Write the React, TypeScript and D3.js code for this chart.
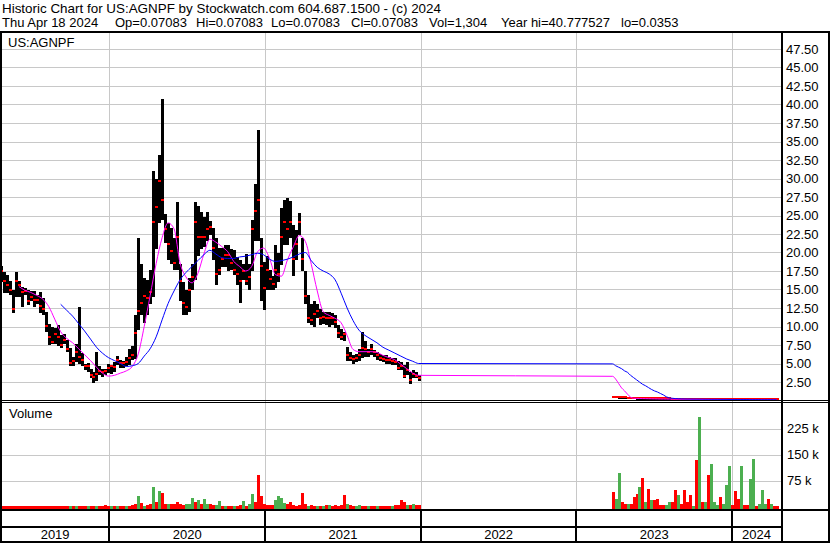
import React from "react";
import * as d3 from "d3";

// ---------- data ----------
const title = "Historic Chart for US:AGNPF by Stockwatch.com 604.687.1500 - (c) 2024";
const quoteParts = [
  "Thu Apr 18 2024",
  "Op=0.07083",
  "Hi=0.07083",
  "Lo=0.07083",
  "Cl=0.07083",
  "Vol=1,304",
  "Year hi=40.777527",
  "lo=0.0353",
];
const symbol = "US:AGNPF";

// weekly bars, segment A: weeks starting 2019-04-22
const startA = new Date(2019, 3, 22);
const hiA = [18.2,17.4,17.0,16.2,15.0,17.3,16.2,15.3,15.2,15.0,
 14.8,14.8,14.3,14.6,13.8,12.0,10.4,10.0,9.8,10.2,
 8.8,9.0,8.2,7.1,5.9,7.7,12.6,6.4,5.0,5.1,
 4.3,3.9,6.6,4.6,4.3,4.3,5.0,4.8,5.2,6.0,
 5.5,5.3,5.9,7.0,7.3,11.5,21.9,18.5,16.5,16.3,
 17.7,31.0,30.0,33.2,40.78,25.2,24.0,23.3,21.9,26.8,
 18.5,16.0,15.0,16.5,18.5,26.8,26.3,25.5,24.8,25.5,
 24.3,23.3,21.9,20.6,20.6,21.0,21.0,20.5,20.3,19.4,
 19.0,18.5,19.8,18.5,24.4,29.2,36.6,21.9,18.7,19.5,
 17.7,16.8,21.0,19.9,26.0,27.1,27.4,26.9,23.7,23.0,
 25.3,22.0,17.5,14.3,13.0,13.4,13.0,12.4,12.0,12.0,
 12.0,11.8,11.6,10.2,9.7,9.3,7.2,6.6,6.1,6.3,
 7.0,9.3,8.0,7.0,7.7,6.8,6.6,6.3,6.1,6.1,
 5.9,5.7,5.7,5.4,5.2,4.8,5.2,3.9,4.1,3.9,
 3.4];
const loA = [16.0,14.5,14.5,14.2,11.8,14.0,14.0,12.7,14.2,12.9,
 13.4,12.7,13.0,11.8,11.6,9.3,7.5,7.6,7.6,7.3,
 7.1,7.6,6.6,4.6,4.6,5.2,5.0,4.6,4.1,3.9,
 3.0,2.4,2.6,3.5,3.2,3.5,3.7,3.6,3.9,4.8,
 4.4,4.4,4.6,4.8,5.5,5.6,9.5,11.5,10.5,11.5,
 13.1,14.0,20.5,24.0,24.4,21.3,19.0,18.5,17.7,17.7,
 13.5,11.5,11.5,12.0,15.0,16.3,19.5,20.5,20.8,21.5,
 22.3,19.0,15.6,17.0,18.0,18.0,17.5,17.7,17.0,15.6,
 13.2,16.3,15.6,15.0,17.5,21.5,21.5,13.5,12.2,15.0,
 15.0,15.0,15.2,16.0,18.3,21.0,21.0,22.0,16.8,19.0,
 22.4,17.5,13.0,10.5,10.2,10.0,11.1,10.2,10.4,10.2,
 10.0,10.2,9.8,8.4,8.2,8.1,5.4,5.3,5.0,5.2,
 5.4,5.8,5.9,5.9,6.1,5.9,5.5,5.3,5.2,5.0,
 5.0,4.8,4.8,4.1,4.1,3.0,3.4,2.2,3.0,3.0,
 2.7];
const clA = [17.4,16.0,15.5,14.8,12.2,16.0,15.5,14.5,14.7,13.3,
 13.8,13.4,13.5,12.6,12.2,10.0,8.5,7.8,8.8,8.4,
 7.3,8.0,6.8,5.0,5.2,6.4,5.8,5.3,4.5,4.5,
 3.3,3.0,3.5,3.9,3.7,3.8,4.2,4.5,4.4,5.4,
 5.0,4.9,5.1,5.6,6.0,9.0,12.0,13.0,14.0,13.7,
 14.5,24.0,26.0,29.5,27.0,23.0,21.0,20.0,18.5,22.0,
 16.0,13.0,12.5,14.8,16.5,24.0,22.0,22.0,22.0,23.0,
 23.3,20.5,17.0,17.5,19.0,19.5,19.5,18.5,17.5,17.0,
 16.0,17.3,16.0,16.5,23.0,25.5,27.0,18.0,15.0,17.5,
 16.3,15.6,17.5,17.0,22.0,24.0,23.0,24.0,19.0,21.0,
 24.0,19.0,14.0,11.0,10.8,11.5,12.0,11.0,11.2,11.0,
 11.0,11.0,10.5,9.0,8.5,8.8,6.0,5.6,5.5,5.6,
 6.0,7.0,6.8,6.4,6.8,6.4,6.0,5.6,5.5,5.4,
 5.3,5.2,5.1,4.3,4.5,3.2,4.0,2.7,3.4,3.2,
 2.9];
// volume in thousands of shares
const volAk = [1,1,2,1,1,1,2,1,1,1,
 1,2,1,1,1,1,2,1,1,1,
 1,1,1,1.5,1,1.5,1,1,1,2,
 1,1,1.5,1,1,4,1,1,1,1,
 1,1,1,1,3.8,8.6,29.7,10.5,1,3.8,
 8.6,55.7,13.4,44,38.4,8.6,6.6,6.6,8.6,12.4,
 8.6,3.8,8.6,6.6,25,13.4,20,8.6,21,8.6,
 8.6,3.8,5.7,16.2,1,1,1,1,1,1,
 3.8,16.2,1,8.6,35.5,12.4,90,30.7,8.6,3.8,
 3.8,3.8,18.2,29.7,25,10.5,8.6,13.4,3.8,1,
 3.8,39.3,8.6,1,3.8,1,1,1,1,3.8,
 3.8,1,3.8,1,3.8,32.6,8.6,3.8,1,1,
 3.8,0.5,0.5,0.5,0.5,0.5,0.5,0.5,0.5,1,
 1,1,3.8,3.8,18.2,13.4,3.8,3.8,8.6,3.8,
 3.8];
// 1 = up (green volume), 0 = down (red volume)
const upA = [0,0,0,0,0,0,0,0,0,0,
 0,0,0,0,0,0,0,0,0,0,
 0,0,0,1,0,1,0,0,0,1,
 0,0,1,0,0,0,0,1,0,1,
 0,0,1,0,0,0,1,0,1,0,
 0,1,0,1,0,0,1,0,0,0,
 0,0,1,1,1,0,1,0,1,1,
 0,0,1,1,0,1,0,0,1,0,
 0,1,0,1,1,0,0,0,0,0,
 0,0,1,1,1,1,0,0,0,0,
 0,0,0,1,0,0,1,0,1,0,
 1,0,0,0,0,0,1,0,0,1,
 1,0,0,1,0,0,1,0,0,0,
 0,1,0,0,0,0,1,0,1,0,
 0];

// weekly bars, segment B: weeks starting 2023-03-27
const startB = new Date(2023, 2, 27);
const hiB = [0.45,0.42,0.40,0.38,0.36,0.33,0.30,0.28,0.27,0.25,
 0.24,0.23,0.22,0.21,0.21,0.20,0.19,0.19,0.18,0.17,
 0.17,0.16,0.16,0.15,0.15,0.14,0.14,0.14,0.15,0.16,
 0.13,0.13,0.14,0.15,0.12,0.12,0.12,0.11,0.12,0.13,
 0.10,0.11,0.10,0.12,0.09,0.09,0.10,0.11,0.09,0.08,
 0.09,0.08,0.08,0.08,0.075,0.07083];
const loB = [0.30,0.28,0.27,0.25,0.24,0.22,0.20,0.19,0.18,0.17,
 0.16,0.15,0.15,0.14,0.14,0.13,0.13,0.12,0.12,0.11,
 0.11,0.10,0.10,0.10,0.09,0.09,0.09,0.09,0.09,0.10,
 0.09,0.08,0.08,0.09,0.08,0.08,0.07,0.07,0.07,0.08,
 0.0353,0.06,0.06,0.07,0.06,0.06,0.06,0.07,0.06,0.06,
 0.06,0.06,0.06,0.06,0.065,0.07083];
const clB = [0.36,0.33,0.32,0.30,0.28,0.26,0.24,0.22,0.21,0.20,
 0.19,0.18,0.18,0.17,0.17,0.16,0.15,0.15,0.14,0.14,
 0.13,0.13,0.12,0.12,0.11,0.11,0.11,0.11,0.12,0.13,
 0.11,0.10,0.11,0.12,0.10,0.10,0.09,0.09,0.09,0.10,
 0.06,0.08,0.08,0.09,0.07,0.07,0.08,0.09,0.07,0.07,
 0.07,0.07,0.07,0.07,0.07,0.07083];
const volBk = [42,23,97,13,8.6,6,6,27.7,37.5,56.5,
 82,13,51.6,18,18,23,3.8,3.8,3.8,13,
 13,47,32.6,8.6,47,13,32.6,1,134,258,
 13,13,90,124,13,3.8,27.7,8.6,61,116,
 3.8,45,23,116,3.8,3.8,78.5,137,1,8.6,
 49,8.6,23,8.6,1,1.304];
const upB = [0,1,1,0,0,1,0,0,0,1,
 0,1,0,1,0,0,0,0,1,1,
 0,0,1,0,0,0,0,1,0,1,
 0,1,0,1,1,1,0,1,1,1,
 0,0,0,1,0,0,1,1,0,1,
 1,1,0,1,0,0];

// moving averages
// fast (magenta): segment A weeks 6,8,...,140
const maFastA = [15.4,14.9,14.6,14.2,13.7,12.7,11.0,9.3,8.4,7.8,
 7.0,6.2,5.4,4.5,3.7,3.3,3.4,3.7,4.0,4.6,
 6.3,10.0,14.2,18.5,22.0,24.0,23.2,18.6,16.7,15.9,
 17.2,19.8,21.8,21.4,20.8,20.1,18.8,18.1,17.5,18.1,
 20.1,20.6,19.2,17.0,16.8,19.0,20.8,22.3,21.5,18.4,
 14.8,12.0,11.5,11.1,10.5,8.8,6.9,6.6,6.6,6.6,
 6.5,6.1,5.8,5.5,4.9,4.3,3.7,3.4];
// slow (blue): segment A weeks 20,22,...,140
const maSlowA = [13.0,12.2,11.4,10.4,9.4,8.3,7.2,6.4,5.8,5.4,
 5.0,4.6,4.7,5.0,6.0,7.0,8.6,10.9,13.1,14.8,
 16.3,17.3,18.1,18.9,19.7,20.3,19.8,19.3,19.2,19.2,
 19.4,19.5,19.7,19.9,19.7,19.1,18.8,18.9,19.1,19.4,
 19.8,20.0,18.9,18.0,17.5,17.1,16.3,14.5,12.5,10.8,
 9.5,8.8,8.3,7.8,7.2,6.8,6.4,6.0,5.6,5.3,
 5.0];
// segment B weekly
const maFastB = [3.27,2.9,2.3,1.7,1.3,0.85,0.45,0.3,0.28,0.27,
 0.26,0.25,0.24,0.23,0.22,0.21,0.2,0.2,0.19,0.19,
 0.18,0.18,0.17,0.17,0.16,0.16,0.15,0.15,0.15,0.15,
 0.14,0.14,0.14,0.13,0.13,0.13,0.12,0.12,0.12,0.12,
 0.11,0.11,0.11,0.11,0.1,0.1,0.1,0.1,0.1,0.09,
 0.09,0.09,0.09,0.08,0.08,0.08];
const maSlowB = [4.95,4.7,4.5,4.3,4.0,3.8,3.4,3.1,2.8,2.5,
 2.2,2.0,1.75,1.5,1.3,1.15,0.95,0.75,0.5,0.35,
 0.3,0.26,0.24,0.22,0.21,0.2,0.2,0.19,0.19,0.18,
 0.18,0.17,0.17,0.16,0.16,0.16,0.15,0.15,0.15,0.14,
 0.14,0.14,0.13,0.13,0.13,0.13,0.12,0.12,0.12,0.12,
 0.11,0.11,0.11,0.11,0.1,0.1];

const priceTicks = [2.5,5,7.5,10,12.5,15,17.5,20,22.5,25,27.5,30,32.5,35,37.5,40,42.5,45,47.5];
const volTicks = [75000, 150000, 225000];
const years = [2019, 2020, 2021, 2022, 2023, 2024];
const domainStart = new Date(2019, 3, 22);
const domainEnd = new Date(2024, 3, 25);

// ---------- component ----------
const FONT = "'Liberation Sans', Arial, Helvetica, sans-serif";

export default function App() {
  const W = 830, H = 543;
  const plotL = 2, plotR = 781;
  const top = 31, priceBottom = 400, volTop = 402, volBottom = 509;
  const barW = 3;

  const x = d3.scaleTime().domain([domainStart, domainEnd]).range([1, plotR]);
  const y = d3.scaleLinear().domain([0, 50]).range([400.5, 30.5]);
  const yv = d3.scaleLinear().domain([0, 300000]).range([506.5, 402.5]);

  const weekA = (i: number) => d3.timeDay.offset(startA, 7 * i);
  const weekB = (j: number) => d3.timeDay.offset(startB, 7 * j);

  type Bar = { d: Date; hi: number; lo: number; cl: number; vol: number; up: boolean };
  const bars: Bar[] = [
    ...hiA.map((h, i) => ({ d: weekA(i), hi: h, lo: loA[i], cl: clA[i], vol: volAk[i] * 1000, up: upA[i] === 1 })),
    ...hiB.map((h, j) => ({ d: weekB(j), hi: h, lo: loB[j], cl: clB[j], vol: volBk[j] * 1000, up: upB[j] === 1 })),
  ];

  const fastPts = [
    ...maFastA.map((v, k) => ({ d: weekA(6 + 2 * k), v })),
    ...maFastB.map((v, j) => ({ d: weekB(j), v })),
  ];
  const slowPts = [
    ...maSlowA.map((v, k) => ({ d: weekA(20 + 2 * k), v })),
    ...maSlowB.map((v, j) => ({ d: weekB(j), v })),
  ];
  const line = d3
    .line<{ d: Date; v: number }>()
    .x((p) => x(p.d))
    .y((p) => y(p.v))
    .curve(d3.curveMonotoneX);

  const yearStarts = years.slice(1).map((yr) => new Date(yr, 0, 1));
  const yearLabels = years.map((yr) => {
    const s = Math.max(+new Date(yr, 0, 1), +domainStart);
    const e = Math.min(+new Date(yr + 1, 0, 1), +domainEnd);
    return { yr, cx: (x(new Date(s)) + x(new Date(e))) / 2 };
  });

  const quoteX = [2, 115, 196, 271, 351, 429, 501, 621];
  const gridColor = "#c8c8c8";
  const crisp = (v: number) => Math.round(v) + 0.5;

  return (
    <svg
      width={W}
      height={H}
      style={{ position: "absolute", left: 0, top: 0, display: "block", background: "#fff" }}
      fontFamily={FONT}
    >
      <rect x={0} y={0} width={W} height={H} fill="#fff" />
      <defs>
        <clipPath id="priceClip">
          <rect x={plotL} y={top + 2} width={plotR - plotL} height={priceBottom - top - 2} />
        </clipPath>
      </defs>

      {/* header */}
      <text x={2} y={13} fontSize={13} fill="#000" textLength={439} lengthAdjust="spacingAndGlyphs">{title}</text>
      {quoteParts.map((t, i) => (
        <text key={t} x={quoteX[i]} y={27} fontSize={13} fill="#000">{t}</text>
      ))}

      {/* price grid */}
      {priceTicks.map((t) => (
        <line key={"pg" + t} x1={plotL} x2={plotR} y1={crisp(y(t))} y2={crisp(y(t))} stroke={gridColor} strokeWidth={1} />
      ))}
      {/* volume grid */}
      {volTicks.map((t) => (
        <line key={"vg" + t} x1={plotL} x2={plotR} y1={crisp(yv(t))} y2={crisp(yv(t))} stroke={gridColor} strokeWidth={1} />
      ))}
      {/* vertical year grid */}
      {yearStarts.map((d) => (
        <line key={"yg" + +d} x1={crisp(x(d))} x2={crisp(x(d))} y1={top} y2={volBottom} stroke={gridColor} strokeWidth={1} />
      ))}

      {/* volume bars */}
      <g shapeRendering="crispEdges">
        {bars.map((b, i) => {
          const cx = Math.round(x(b.d));
          const yt = Math.min(yv(b.vol), volBottom - 2);
          return (
            <rect key={"v" + i} x={cx - 1} y={yt} width={barW} height={volBottom - yt} fill={b.up ? "#4caf50" : "#ff0000"} />
          );
        })}
      </g>

      {/* price bars */}
      <g clipPath="url(#priceClip)" shapeRendering="crispEdges">
        {bars.map((b, i) => {
          const cx = Math.round(x(b.d));
          const yh = y(b.hi);
          const yl = y(b.lo);
          return <rect key={"p" + i} x={cx - 1} y={yh} width={barW} height={Math.max(1, yl - yh)} fill="#000" />;
        })}
        {bars.map((b, i) => {
          const cx = Math.round(x(b.d));
          return <rect key={"c" + i} x={cx - 1} y={Math.round(y(b.cl)) - 2} width={barW} height={2} fill="#ff0000" />;
        })}
      </g>

      {/* moving averages */}
      <g clipPath="url(#priceClip)">
        <path d={line(fastPts) || ""} fill="none" stroke="#ff00ff" strokeWidth={1} />
        <path d={line(slowPts) || ""} fill="none" stroke="#0000ff" strokeWidth={1} />
      </g>

      {/* frame */}
      <g shapeRendering="crispEdges" fill="#000">
        <rect x={0} y={top} width={W} height={2} />
        <rect x={0} y={priceBottom} width={W} height={1} />
        <rect x={0} y={volTop} width={W} height={1} />
        <rect x={0} y={volBottom} width={W} height={2} />
        <rect x={0} y={526} width={plotR} height={2} />
        <rect x={0} y={H - 2} width={W} height={2} />
        <rect x={0} y={top} width={2} height={H - top} />
        <rect x={plotR} y={top} width={2} height={H - top} />
        <rect x={W - 2} y={top} width={2} height={H - top} />
        {yearStarts.map((d) => (
          <rect key={"ys" + +d} x={Math.round(x(d)) - 1} y={volBottom} width={2} height={H - volBottom} />
        ))}
      </g>

      {/* labels */}
      <text x={8} y={46.5} fontSize={13} fill="#000">{symbol}</text>
      <text x={9} y={418} fontSize={13} fill="#000">Volume</text>
      {priceTicks.map((t) => (
        <text key={"pl" + t} x={786} y={y(t) + 4.5} fontSize={13} fill="#000">{d3.format(".2f")(t)}</text>
      ))}
      {volTicks.map((t) => (
        <text key={"vl" + t} x={787} y={yv(t) + 4.5} fontSize={13} fill="#000">{`${t / 1000} k`}</text>
      ))}
      {yearLabels.map((l) => (
        <text key={"yl" + l.yr} x={l.cx} y={539} fontSize={13} textAnchor="middle" fill="#000">{l.yr}</text>
      ))}
    </svg>
  );
}
